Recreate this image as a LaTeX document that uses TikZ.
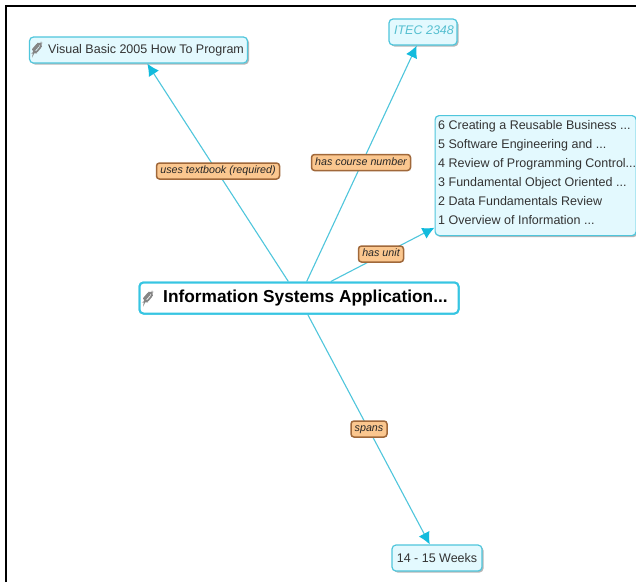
\documentclass[tikz,border=0pt]{standalone}
\usepackage{fontspec}
\setmainfont{Liberation Sans}
\definecolor{cyanline}{HTML}{4FC6DC}
\definecolor{cyanhead}{HTML}{12BBDD}
\definecolor{cyanfill}{HTML}{E3F9FE}
\definecolor{lblfill}{HTML}{FBC78F}
\definecolor{lbldraw}{HTML}{A0683A}
\definecolor{clipgray}{HTML}{858585}
\definecolor{itectext}{HTML}{55BFD0}
\usetikzlibrary{arrows.meta,shadows}
\tikzset{
  x=1pt,y=-1pt,
  concept/.style={draw=cyanline,line width=1.2pt,fill=cyanfill,rounded corners=4pt,inner sep=0pt,
    drop shadow={shadow xshift=1.5pt,shadow yshift=-1.5pt,fill=black!35,opacity=.8}},
  mainconcept/.style={draw=cyanhead!85!white,line width=2pt,fill=white,rounded corners=4pt,inner sep=0pt,
    minimum width=319pt,minimum height=31pt},
  linklabel/.style={draw=lbldraw,line width=1.5pt,fill=lblfill,rounded corners=3pt,inner sep=0pt,
    minimum height=16pt,text=black!85,text depth=2.5pt,text height=8pt,font=\fontsize{10.7}{12}\selectfont\itshape},
  conn/.style={draw=cyanline,line width=1.1pt,-{Latex[length=12pt,width=12pt,color=cyanhead]}},
  clipicon/.style={draw=clipgray,line width=1.7pt,line cap=round,rounded corners=1.5pt},
  nodetext/.style={inner sep=0pt,text=black!80,font=\fontsize{12.5}{18.9}\selectfont}
}
\newcommand{\clipglyph}[1]{%
  \draw[clipicon,shift={(#1)},rotate=-40] (-2.2,4) -- (-2.2,-3.6) -- (0,-5.6) -- (2.2,-3.6) -- (2.2,4) -- (0.4,5.6) -- (-.6,4) -- (-.4,-2.5);
}
\begin{document}
\begin{tikzpicture}
\useasboundingbox (0,0) rectangle (636,582);
\fill[white] (0,0) rectangle (636,582);
\draw[black,line width=2pt] (6,582) -- (6,6) -- (636,6);

\node[mainconcept] (main) at (299,298) {};
\node[concept,minimum width=218pt,minimum height=26pt] (vb) at (138.5,50) {};
\node[concept,minimum width=68pt,minimum height=26pt] (itec) at (423,32) {};
\node[concept,minimum width=201pt,minimum height=120pt,anchor=north west] (units) at (434.5,115) {};
\node[concept,minimum width=90pt,minimum height=26pt] (weeks) at (437,558) {};

\draw[conn] (main) -- (vb);
\draw[conn] (main) -- (itec);
\draw[conn] (main) -- (units);
\draw[conn] (main) -- (weeks);

\node[mainconcept] (mainb) at (299,298) {};
\node[anchor=west,inner sep=0pt,font=\fontsize{17.3}{20}\selectfont\bfseries] (maint) at (163,298) {Information Systems Application...};
\node[nodetext,anchor=west] (vbt) at (48,50.5) {Visual Basic 2005 How To Program};
\node[inner sep=0pt,text=itectext,font=\fontsize{12.5}{14}\selectfont\itshape] (itect) at (424,30.5) {ITEC 2348};
\node[nodetext,anchor=north west,align=left] (unitst) at (438,120.5) {6 Creating a Reusable Business ...\\5 Software Engineering and ...\\4 Review of Programming Control...\\3 Fundamental Object Oriented ...\\2 Data Fundamentals Review\\1 Overview of Information ...};
\node[nodetext] (weekst) at (437,558) {14 - 15 Weeks};

\clipglyph{37,48}
\clipglyph{148,297}

\node[linklabel,minimum width=123pt] (l1) at (218,171) {uses textbook (required)};
\node[linklabel,minimum width=99pt] (l2) at (361,162.5) {has course number};
\node[linklabel,minimum width=45pt] (l3) at (381,254) {has unit};
\node[linklabel,minimum width=36pt] (l4) at (369,429) {spans};
\end{tikzpicture}
\end{document}
